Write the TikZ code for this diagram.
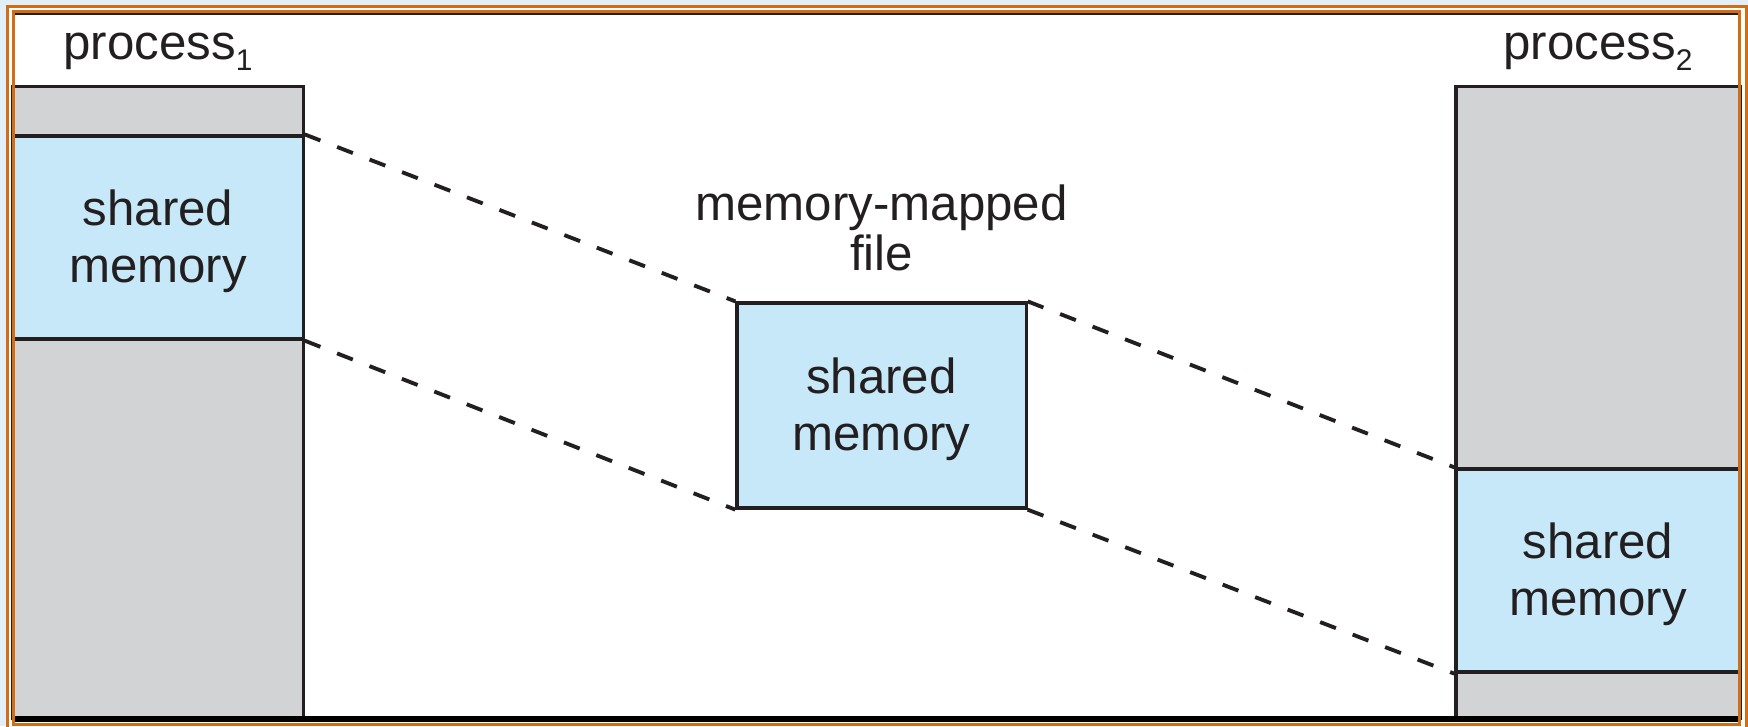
\documentclass[tikz,border=0pt]{standalone}
\usepackage{fontspec}
\setmainfont{Liberation Sans}
\usetikzlibrary{positioning}
\definecolor{memblue}{RGB}{199,232,248}
\definecolor{procgray}{RGB}{209,211,212}
\definecolor{frameorange}{RGB}{212,108,20}
\definecolor{pageblue}{RGB}{226,239,249}
\definecolor{inkdark}{RGB}{35,31,32}
\newcommand{\procsub}[1]{{\fontsize{8.5}{8.5}\selectfont\raisebox{-3.2pt}{#1}}}
\tikzset{
x=0.01cm, y=-0.01cm, % one unit is one pixel of the figure
every node/.style={text=inkdark, font=\fontsize{14}{16}\selectfont}, % text of all nodes
proc/.style={draw=inkdark, line width=0.9pt, fill=procgray, inner sep=0pt}, % address space of a process
shm/.style={proc, fill=memblue, align=center, text depth=0.8pt}, % shared memory region
lbl/.style={inner sep=0pt, align=center}, % plain labels
mapline/.style={draw=inkdark, line width=1.1pt, dash pattern=on 4.8pt off 5.1pt}, % mapping lines
}

\begin{document}
\begin{tikzpicture}
  \fill[pageblue] (0,0) rectangle (1748,726);
  \useasboundingbox (0,0) rectangle (1748,726);
  \fill[white] (7,6) rectangle (1746,745);

  \node[proc, minimum width=2.9cm, minimum height=6.31cm] (p1) at (158,402.5) {};
  \node[shm, minimum width=2.9cm, minimum height=2.03cm] (p1shm) at (158,237.5) {shared\\memory};
  \node[shm, minimum width=2.89cm, minimum height=2.05cm] (file) at (881.5,405.5) {shared\\memory};
  \node[proc, minimum width=2.84cm, minimum height=6.31cm] (p2) at (1598,402.5) {};
  \node[shm, minimum width=2.84cm, minimum height=2.03cm] (p2shm) at (1598,570.5) {shared\\memory};

  \node[lbl, above=0.14cm of p1] (p1lbl) {process\procsub{1}};
  \node[lbl, above=0.14cm of p2] (p2lbl) {process\procsub{2}};
  \node[lbl, font=\fontsize{14}{13}\selectfont, above=0.3cm of file] (filelbl) {memory-mapped\\file};

  \draw[mapline] (p1shm.north east) -- (file.north west);
  \draw[mapline] (p1shm.south east) -- (file.south west);
  \draw[mapline] (file.north east) -- (p2shm.north west);
  \draw[mapline] (file.south east) -- (p2shm.south west);

  % frame
  \draw[inkdark, line width=0.6pt] (15,14) -- (1738,14);
  \draw[black, line width=1.7pt] (15,719) -- (1738,719);
  \draw[frameorange, line width=0.85pt] (7.5,6) rectangle (1746,745);
  \draw[frameorange, line width=0.85pt] (13.5,11) rectangle (1739.5,724);
\end{tikzpicture}
\end{document}
